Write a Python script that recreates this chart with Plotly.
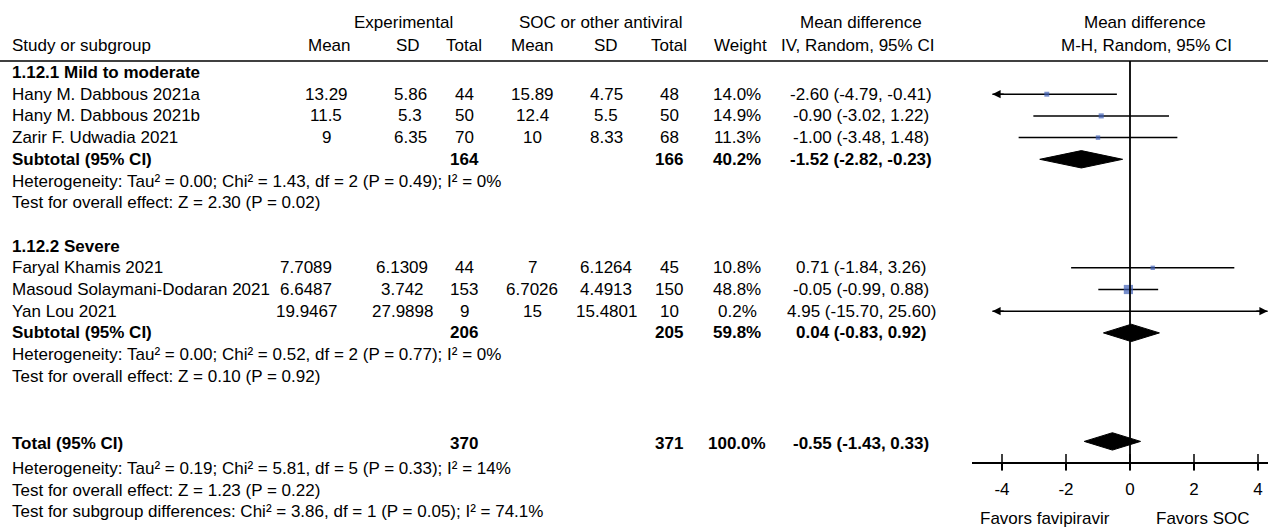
import plotly.graph_objects as go

# ---------------- data ----------------
studies = ["Hany M. Dabbous 2021a", "Hany M. Dabbous 2021b", "Zarir F. Udwadia 2021",
           "Faryal Khamis 2021", "Masoud Solaymani-Dodaran 2021", "Yan Lou 2021"]
group_sizes = [3, 3]
exp_mean = [13.29, 11.5, 9, 7.7089, 6.6487, 19.9467]
exp_sd = [5.86, 5.3, 6.35, 6.1309, 3.742, 27.9898]
exp_n = [44, 50, 70, 44, 153, 9]
ctl_mean = [15.89, 12.4, 10, 7, 6.7026, 15]
ctl_sd = [4.75, 5.5, 8.33, 6.1264, 4.4913, 15.4801]
ctl_n = [48, 50, 68, 45, 150, 10]
weight = [14.0, 14.9, 11.3, 10.8, 48.8, 0.2]
md = [-2.60, -0.90, -1.00, 0.71, -0.05, 4.95]
md_lo = [-4.79, -3.02, -3.48, -1.84, -0.99, -15.70]
md_hi = [-0.41, 1.22, 1.48, 3.26, 0.88, 25.60]

sub_names = ["1.12.1 Mild to moderate", "1.12.2 Severe"]
sub_exp_n = [164, 206]
sub_ctl_n = [166, 205]
sub_weight = [40.2, 59.8]
sub_md = [-1.52, 0.04]
sub_lo = [-2.82, -0.83]
sub_hi = [-0.23, 0.92]
sub_het = ["Heterogeneity: Tau² = 0.00; Chi² = 1.43, df = 2 (P = 0.49); I² = 0%",
           "Heterogeneity: Tau² = 0.00; Chi² = 0.52, df = 2 (P = 0.77); I² = 0%"]
sub_test = ["Test for overall effect: Z = 2.30 (P = 0.02)",
            "Test for overall effect: Z = 0.10 (P = 0.92)"]

total_label = "Total (95% CI)"
total_exp_n = 370
total_ctl_n = 371
total_weight = 100.0
total_md = -0.55
total_lo = -1.43
total_hi = 0.33
total_notes = ["Heterogeneity: Tau² = 0.19; Chi² = 5.81, df = 5 (P = 0.33); I² = 14%",
               "Test for overall effect: Z = 1.23 (P = 0.22)",
               "Test for subgroup differences: Chi² = 3.86, df = 1 (P = 0.05); I² = 74.1%"]

x_ticks = [-4, -2, 0, 2, 4]
favors_left = "Favors favipiravir"
favors_right = "Favors SOC"

# ---------------- layout constants ----------------
W, H = 1268, 528
FONT = "Liberation Sans, Arial, sans-serif"
FS = 17
ROW0_PX = 72.5
ROW_PX = 21.7


def row_of_px(p):
    return (p - ROW0_PX) / ROW_PX


Y_TOP = row_of_px(0)
Y_BOT = row_of_px(H)
AXIS_PX = 462.3
HEADLINE_PX = 61
PLOT_LEFT_PX = 972
ZERO_PX = 1130
PX_PER_UNIT = 32
X2_RANGE = [(PLOT_LEFT_PX - ZERO_PX) / PX_PER_UNIT, (W - ZERO_PX) / PX_PER_UNIT]
CLIP = 4.3
DIAMOND_HALF = 0.4
BLUE = "#3f60b6"
TOTAL_TEXT_SHIFT = 0.08
TOTAL_NOTE_SHIFT = 0.25

col_x = {"exp_mean": 326, "exp_sd": 410, "exp_n": 464, "ctl_mean": 532,
         "ctl_sd": 606, "ctl_n": 669, "weight": 737, "ci": 861}
# the second subgroup's experimental mean/SD cells sit a little further left
group_col_shift = [{}, {"exp_mean": -20, "exp_sd": -8}]
STUDY_X = 10

# ---------------- row assignment ----------------
rows = []
r = 0
si = 0
for g in range(len(sub_names)):
    rows.append(("header", g, r)); r += 1
    for _ in range(group_sizes[g]):
        rows.append(("study", (si, g), r)); si += 1; r += 1
    rows.append(("subtotal", g, r)); r += 1
    rows.append(("note", sub_het[g], r)); r += 1
    rows.append(("note", sub_test[g], r)); r += 1
    r += 1
r += 1
rows.append(("total", None, r)); r += 1
for n in total_notes:
    rows.append(("note", n, r + TOTAL_NOTE_SHIFT)); r += 1

annotations = []


def txt(x, y, s, anchor="center", bold=False, xref="x", yref="y"):
    annotations.append(dict(x=x, y=y, xref=xref, yref=yref, text=f"<b>{s}</b>" if bold else s,
                            showarrow=False, xanchor=anchor, yanchor="middle",
                            font=dict(family=FONT, size=FS, color="black")))


def fmt_ci(m, l, h):
    return f"{m:.2f} ({l:.2f}, {h:.2f})"


# header
hy1, hy2 = row_of_px(22), row_of_px(45)
txt((col_x["exp_mean"] + col_x["exp_n"]) / 2 + 8, hy1, "Experimental")
txt((col_x["ctl_mean"] + col_x["ctl_n"]) / 2, hy1, "SOC or other antiviral")
txt(col_x["ci"], hy1, "Mean difference")
txt(STUDY_X, hy2, "Study or subgroup", anchor="left")
txt(col_x["exp_mean"] + 3, hy2, "Mean")
txt(col_x["exp_sd"] - 2, hy2, "SD")
txt(col_x["exp_n"], hy2, "Total")
txt(col_x["ctl_mean"], hy2, "Mean")
txt(col_x["ctl_sd"], hy2, "SD")
txt(col_x["ctl_n"], hy2, "Total")
txt(col_x["weight"] + 3, hy2, "Weight")
txt(col_x["ci"] - 4, hy2, "IV, Random, 95% CI")
txt(1145, hy1, "Mean difference")
txt(1146, hy2, "M-H, Random, 95% CI")

# table body + forest marks
ci_x, ci_y = [], []
mk_x, mk_y, mk_s = [], [], []
dia_x, dia_y = [], []
arrow_pts = []


def diamond(m, l, h, y):
    dia_x.extend([l, m, h, m, l, None])
    dia_y.extend([y, y - DIAMOND_HALF, y, y + DIAMOND_HALF, y, None])


for kind, ref, y in rows:
    if kind == "header":
        txt(STUDY_X, y, sub_names[ref], anchor="left", bold=True)
    elif kind == "study":
        i, g = ref
        sh = group_col_shift[g]
        cx = {k: v + sh.get(k, 0) for k, v in col_x.items()}
        txt(STUDY_X, y, studies[i], anchor="left")
        txt(cx["exp_mean"], y, f"{exp_mean[i]:g}")
        txt(cx["exp_sd"], y, f"{exp_sd[i]:g}")
        txt(cx["exp_n"], y, str(exp_n[i]))
        txt(cx["ctl_mean"], y, f"{ctl_mean[i]:g}")
        txt(cx["ctl_sd"], y, f"{ctl_sd[i]:g}")
        txt(cx["ctl_n"], y, str(ctl_n[i]))
        txt(cx["weight"], y, f"{weight[i]:.1f}%")
        txt(cx["ci"], y, fmt_ci(md[i], md_lo[i], md_hi[i]))
        lo = max(md_lo[i], -CLIP)
        hi = min(md_hi[i], CLIP)
        ci_x.extend([lo, hi, None]); ci_y.extend([y, y, None])
        if md_lo[i] < -CLIP:
            arrow_pts.append((-CLIP, y, 1))
        if md_hi[i] > CLIP:
            arrow_pts.append((CLIP, y, -1))
        mk_x.append(md[i]); mk_y.append(y); mk_s.append(1.32 * weight[i] ** 0.5)
    elif kind == "subtotal":
        g = ref
        txt(STUDY_X, y, "Subtotal (95% CI)", anchor="left", bold=True)
        txt(col_x["exp_n"], y, str(sub_exp_n[g]), bold=True)
        txt(col_x["ctl_n"], y, str(sub_ctl_n[g]), bold=True)
        txt(col_x["weight"], y, f"{sub_weight[g]:.1f}%", bold=True)
        txt(col_x["ci"], y, fmt_ci(sub_md[g], sub_lo[g], sub_hi[g]), bold=True)
        diamond(sub_md[g], sub_lo[g], sub_hi[g], y)
    elif kind == "total":
        ty = y + TOTAL_TEXT_SHIFT
        txt(STUDY_X, ty, total_label, anchor="left", bold=True)
        txt(col_x["exp_n"], ty, str(total_exp_n), bold=True)
        txt(col_x["ctl_n"], ty, str(total_ctl_n), bold=True)
        txt(col_x["weight"], ty, f"{total_weight:.1f}%", bold=True)
        txt(col_x["ci"], ty, fmt_ci(total_md, total_lo, total_hi), bold=True)
        diamond(total_md, total_lo, total_hi, y)
    elif kind == "note":
        txt(STUDY_X, y, ref, anchor="left")

fig = go.Figure()
fig.add_trace(go.Scatter(x=ci_x, y=ci_y, xaxis="x2", yaxis="y2", mode="lines",
                         line=dict(color="black", width=1.5), hoverinfo="skip", cliponaxis=False))
fig.add_trace(go.Scatter(x=mk_x, y=mk_y, xaxis="x2", yaxis="y2", mode="markers",
                         marker=dict(symbol="square", size=mk_s, color=BLUE, line=dict(width=0)),
                         cliponaxis=False))
fig.add_trace(go.Scatter(x=dia_x, y=dia_y, xaxis="x2", yaxis="y2", mode="lines", fill="toself",
                         fillcolor="black", line=dict(color="black", width=1), cliponaxis=False))
# tick marks crossing the axis line
fig.add_trace(go.Scatter(x=x_ticks, y=[row_of_px(AXIS_PX)] * len(x_ticks), xaxis="x2", yaxis="y2",
                         mode="markers", marker=dict(symbol="line-ns", size=12,
                                                     line=dict(color="black", width=1.5)),
                         cliponaxis=False))

for x, y, d in arrow_pts:
    annotations.append(dict(x=x, y=y, xref="x2", yref="y2", ax=x + d * 0.4, ay=y,
                            axref="x2", ayref="y2", text="", showarrow=True, arrowhead=2,
                            arrowsize=1.1, arrowwidth=1.5, arrowcolor="black"))

txt(-2.66, row_of_px(518), favors_left, xref="x2")
txt(2.28, row_of_px(518), favors_right, xref="x2")

shapes = [
    dict(type="line", xref="paper", yref="y", x0=0, x1=1, y0=row_of_px(HEADLINE_PX),
         y1=row_of_px(HEADLINE_PX), line=dict(color="black", width=1.6)),
    dict(type="line", xref="x2", yref="y", x0=0, x1=0, y0=row_of_px(HEADLINE_PX),
         y1=row_of_px(AXIS_PX), line=dict(color="black", width=1.8)),
]

fig.update_layout(
    width=W, height=H, margin=dict(l=0, r=0, t=0, b=0),
    paper_bgcolor="white", plot_bgcolor="rgba(0,0,0,0)", showlegend=False,
    xaxis=dict(domain=[0, 1], range=[0, W], visible=False, fixedrange=True),
    yaxis=dict(domain=[0, 1], range=[Y_BOT, Y_TOP], visible=False),
    xaxis2=dict(domain=[PLOT_LEFT_PX / W, 1], range=X2_RANGE, anchor="y2", showline=True,
                linecolor="black", linewidth=1.5, ticks="outside", ticklen=6, tickwidth=1.5,
                tickcolor="black", tickvals=x_ticks, ticktext=[str(v) for v in x_ticks],
                tickfont=dict(family=FONT, size=FS, color="black"), showgrid=False,
                zeroline=False, ticklabelstandoff=5),
    yaxis2=dict(domain=[(H - AXIS_PX) / H, 1], range=[row_of_px(AXIS_PX), Y_TOP], anchor="x2",
                visible=False),
    annotations=annotations, shapes=shapes,
)

fig.write_html("out.html", config={"displayModeBar": False},
               post_script="document.body.style.margin='0';document.body.style.overflow='hidden';")
